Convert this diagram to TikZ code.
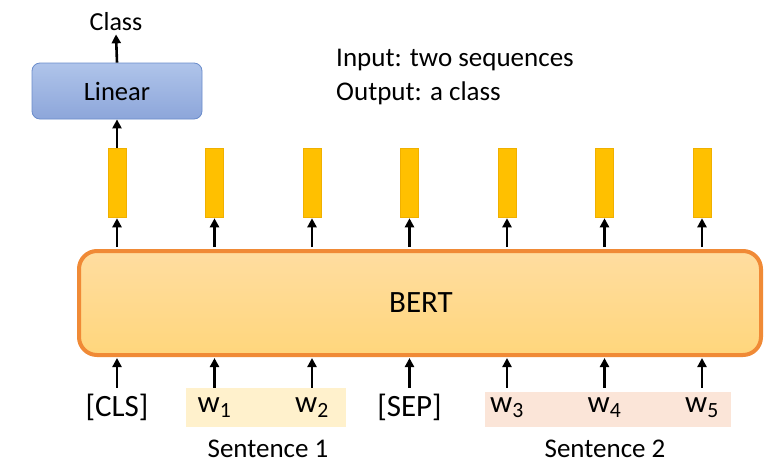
\documentclass[tikz,border=0pt]{standalone}
\usepackage{fontspec}
\setmainfont{Carlito}
\usetikzlibrary{arrows.meta,positioning,fit}
\definecolor{bertedge}{HTML}{F08A36}
\definecolor{berttop}{HTML}{FFDDA0}
\definecolor{bertbot}{HTML}{FFD67C}
\definecolor{lintop}{HTML}{AFC4EA}
\definecolor{linbot}{HTML}{8DA6DA}
\definecolor{linedge}{HTML}{6A8CCB}
\definecolor{barfill}{HTML}{FFC000}
\definecolor{baredge}{HTML}{F0B000}
\definecolor{sone}{HTML}{FFF1CC}
\definecolor{stwo}{HTML}{FBE5D8}
\tikzset{
  x=1pt,y=-1pt,
  arr/.style={line width=2.6pt,-{Triangle[width=9pt,length=9pt]}},
  barbox/.style={draw=baredge,line width=0.5pt,fill=barfill,minimum width=18pt,minimum height=69pt,inner sep=0pt},
  tok/.style={minimum height=39pt,inner sep=0pt,font=\fontsize{31}{33}\selectfont},
  lab/.style={font=\fontsize{27}{29}\selectfont,inner sep=0pt},
}
\begin{document}
\begin{tikzpicture}
\useasboundingbox (0,0) rectangle (774,467);
\fill[white] (0,0) rectangle (774,467);
% highlight boxes
\fill[sone] (186,388) rectangle (346,427);
\fill[stwo] (485,392) rectangle (731,427);
% BERT
\node[draw=bertedge,line width=4pt,rounded corners=18pt,top color=berttop,bottom color=bertbot,
  minimum width=682pt,minimum height=104pt,inner sep=0pt] (bert) at (420,303) {};
\node[font=\fontsize{31}{33}\selectfont,inner sep=0pt] at (421,303) {BERT};
% Linear
\node[draw=linedge,line width=0.8pt,rounded corners=8pt,top color=lintop,bottom color=linbot,
  minimum width=170pt,minimum height=56pt,inner sep=0pt,font=\fontsize{26.5}{28}\selectfont] (lin) at (117,91) {Linear};
\node[font=\fontsize{26}{28}\selectfont,inner sep=0pt] (cls) at (116,22) {Class};
% Input/Output text
\node[lab,anchor=west] (inp) at (336,60) {Input: two sequences};
\node[lab,anchor=west] (outp) at (336,93) {Output: a class};
% bars
\foreach \i/\x in {0/117,1/214.5,2/312,3/409.5,4/507,5/604.5,6/702}{
  \node[barbox] (h\i) at (\x,182.5) {};
  \draw[arr] ([yshift=2pt]h\i.south |- bert.north) -- ([yshift=-1pt]h\i.south);
}
% tokens
\node[tok] (t0) at (117,407.5) {[CLS]};
\node[tok] (t1) at (214.5,407.5) {w$_{\mathrm{1}}$};
\node[tok] (t2) at (312,407.5) {w$_{\mathrm{2}}$};
\node[tok] (t3) at (409.5,407.5) {[SEP]};
\node[tok] (t4) at (507,407.5) {w$_{\mathrm{3}}$};
\node[tok] (t5) at (604.5,407.5) {w$_{\mathrm{4}}$};
\node[tok] (t6) at (702,407.5) {w$_{\mathrm{5}}$};
\foreach \i in {0,...,6}{
  \draw[arr] (t\i.north) -- ([yshift=-1pt]t\i.north |- bert.south);
}
\node[lab] (s1) at (268,449) {Sentence 1};
\node[lab] (s2) at (605,449) {Sentence 2};
% top arrows
\draw[arr] (h0.north) -- (lin.south);
\draw[arr] (lin.north) -- ([yshift=-3pt]cls.south);
\end{tikzpicture}
\end{document}
